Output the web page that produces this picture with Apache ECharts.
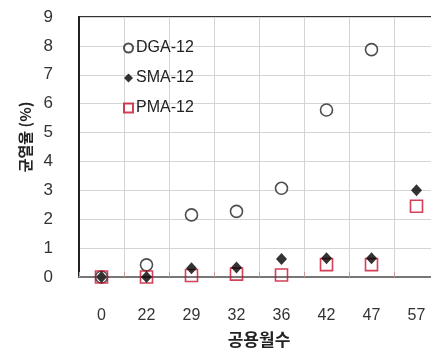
<!DOCTYPE html>
<html>
<head>
<meta charset="utf-8">
<script src="https://cdn.jsdelivr.net/npm/echarts@6/dist/echarts.min.js"></script>
<style>
  html, body { margin: 0; padding: 0; background: #fff; overflow: hidden; }
  #chart { width: 439px; height: 353px; }
</style>
</head>
<body>
<div id="chart"></div>
<script>
// Months in service (category axis)
const months = ['0', '22', '29', '32', '36', '42', '47', '57'];
// Crack rate (%) per mix type
const dga12 = [0, 0.42, 2.15, 2.27, 3.07, 5.78, 7.87, null];
const sma12 = [0, 0, 0.3, 0.33, 0.62, 0.65, 0.65, 3.0];
const pma12 = [0, 0, 0.05, 0.1, 0.07, 0.43, 0.43, 2.45];
const yTicks = [0, 1, 2, 3, 4, 5, 6, 7, 8, 9];

const latin = '"Liberation Sans", Arial, sans-serif';
const kr = '"Noto Sans CJK KR", sans-serif';

const chart = echarts.init(document.getElementById('chart'), null, { renderer: 'canvas' });
chart.setOption({
  animation: false,
  backgroundColor: '#fff',
  grid: {
    left: 79, top: 17, right: 0, bottom: 75,
    show: true, borderColor: '#333', borderWidth: 2, backgroundColor: 'transparent'
  },
  legend: {
    orient: 'vertical',
    left: 118, top: 35,
    itemWidth: 9, itemHeight: 9, itemGap: 14,
    textStyle: { fontFamily: latin, fontSize: 16, color: '#222', padding: [0, 0, 0, -2] },
    data: ['DGA-12', 'SMA-12', 'PMA-12']
  },
  xAxis: {
    type: 'category',
    data: months,
    boundaryGap: true,
    name: '공용월수',
    nameLocation: 'middle',
    nameGap: 54,
    nameTextStyle: { fontFamily: kr, fontSize: 17, fontWeight: 'bold', color: '#222' },
    axisLine: { lineStyle: { color: '#777', width: 2 } },
    axisTick: { show: true, inside: true, length: 5, lineStyle: { color: '#c99' } },
    axisLabel: { fontFamily: latin, fontSize: 16, color: '#333', margin: 31 },
    splitLine: { show: true, lineStyle: { color: '#d4d4d4', width: 1 } }
  },
  yAxis: {
    type: 'value',
    min: yTicks[0], max: yTicks[yTicks.length - 1], interval: 1,
    name: '균열율 (%)',
    nameLocation: 'middle',
    nameGap: 46,
    nameRotate: 90,
    nameTextStyle: { fontFamily: kr, fontSize: 15, fontWeight: 'bold', color: '#222', padding: [0, 0, 0, 20] },
    axisLine: { show: true, lineStyle: { color: '#222', width: 2 } },
    axisTick: { show: false },
    axisLabel: { fontFamily: latin, fontSize: 17, color: '#333', margin: 26 },
    splitLine: { show: true, lineStyle: { color: '#d4d4d4', width: 1 } }
  },
  series: [
    {
      name: 'DGA-12', type: 'scatter', data: dga12, z: 3,
      symbol: 'circle', symbolSize: 12,
      itemStyle: { color: '#fff', borderColor: '#222', borderWidth: 1.6 }
    },
    {
      name: 'SMA-12', type: 'scatter', data: sma12, z: 5,
      symbol: 'diamond', symbolSize: [11, 12],
      itemStyle: { color: '#000' }
    },
    {
      name: 'PMA-12', type: 'scatter', data: pma12, z: 4,
      symbol: 'rect', symbolSize: 12,
      itemStyle: { color: 'rgba(255,255,255,0)', borderColor: '#c8102e', borderWidth: 1.6 }
    }
  ]
});
</script>
</body>
</html>
